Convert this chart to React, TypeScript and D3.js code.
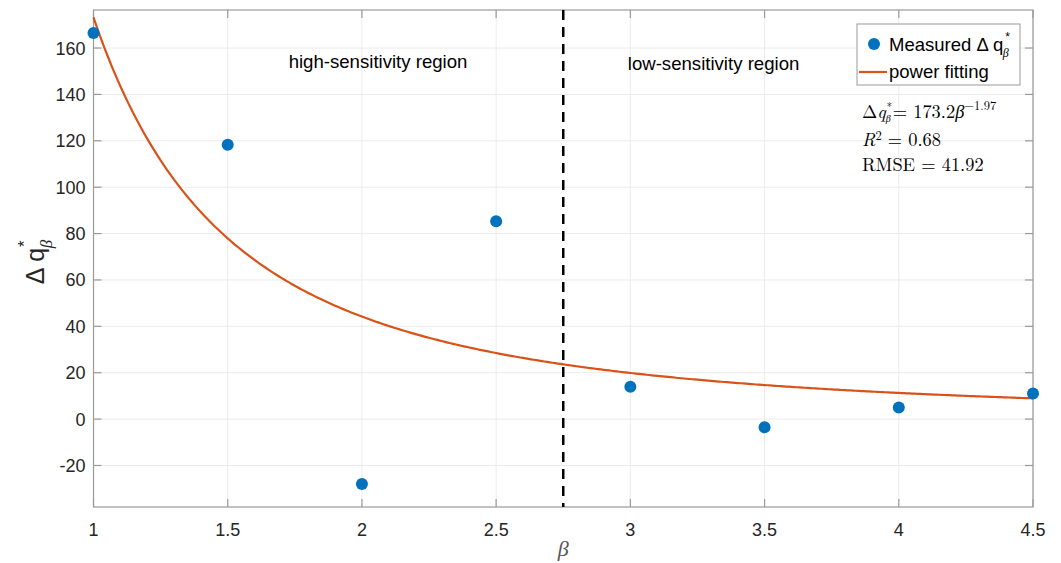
import React, { useEffect, useRef } from 'react'
import * as d3 from 'd3'

const betaValues = [1, 1.5, 2, 2.5, 3, 3.5, 4, 4.5]
const measured = [166.5, 118.3, -28, 85.3, 14, -3.5, 5, 11]
const xTicks = [1, 1.5, 2, 2.5, 3, 3.5, 4, 4.5]
const yTicks = [-20, 0, 20, 40, 60, 80, 100, 120, 140, 160]
const fitA = 173.2
const fitB = -1.97
const splitBeta = 2.75

export default function App() {
  const ref = useRef<SVGSVGElement>(null)

  useEffect(() => {
    const svg = d3.select(ref.current)
    svg.selectAll('*').remove()

    const width = 1061
    const height = 563
    const margin = { top: 10, right: 28, bottom: 56, left: 93.5 }
    const iw = width - margin.left - margin.right
    const ih = height - margin.top - margin.bottom

    const x = d3.scaleLinear().domain([1, 4.5]).range([0, iw])
    const y = d3.scaleLinear().domain([-37.9, 176.4]).range([ih, 0])

    const g = svg.append('g').attr('transform', `translate(${margin.left},${margin.top})`)
    const font = 'Helvetica, Arial, "Liberation Sans", sans-serif'
    const serif = '"Latin Modern Roman", "Liberation Serif", "Times New Roman", serif'

    // grid
    g.append('g').selectAll('line').data(xTicks).enter().append('line')
      .attr('x1', d => x(d)).attr('x2', d => x(d)).attr('y1', 0).attr('y2', ih)
      .attr('stroke', '#ebebeb').attr('stroke-width', 1)
    g.append('g').selectAll('line').data(yTicks).enter().append('line')
      .attr('y1', d => y(d)).attr('y2', d => y(d)).attr('x1', 0).attr('x2', iw)
      .attr('stroke', '#ebebeb').attr('stroke-width', 1)

    // axes box
    g.append('rect').attr('width', iw).attr('height', ih)
      .attr('fill', 'none').attr('stroke', '#9a9a9a').attr('stroke-width', 1.2)

    const tl = 8
    const tickG = g.append('g').attr('stroke', '#9a9a9a').attr('stroke-width', 1.2)
    xTicks.forEach(t => {
      tickG.append('line').attr('x1', x(t)).attr('x2', x(t)).attr('y1', ih).attr('y2', ih - tl)
      tickG.append('line').attr('x1', x(t)).attr('x2', x(t)).attr('y1', 0).attr('y2', tl)
    })
    yTicks.forEach(t => {
      tickG.append('line').attr('y1', y(t)).attr('y2', y(t)).attr('x1', 0).attr('x2', tl)
      tickG.append('line').attr('y1', y(t)).attr('y2', y(t)).attr('x1', iw).attr('x2', iw - tl)
    })

    g.append('g').selectAll('text').data(xTicks).enter().append('text')
      .attr('x', d => x(d)).attr('y', ih + 29)
      .attr('text-anchor', 'middle').attr('font-family', font).attr('font-size', 18)
      .attr('fill', '#262626').text(d => String(d))
    g.append('g').selectAll('text').data(yTicks).enter().append('text')
      .attr('x', -8).attr('y', d => y(d) + 6.5)
      .attr('text-anchor', 'end').attr('font-family', font).attr('font-size', 18)
      .attr('fill', '#262626').text(d => String(d))

    // dashed split line
    g.append('line').attr('x1', x(splitBeta)).attr('x2', x(splitBeta)).attr('y1', 0).attr('y2', ih)
      .attr('stroke', '#000').attr('stroke-width', 2.5).attr('stroke-dasharray', '10,7')

    // fit curve
    const fitPts = d3.range(0, 351).map(i => 1 + i * 0.01)
    const line = d3.line<number>().x(d => x(d)).y(d => y(fitA * Math.pow(d, fitB)))
    g.append('path').datum(fitPts).attr('d', line)
      .attr('fill', 'none').attr('stroke', '#D95319').attr('stroke-width', 2.2)

    // points
    g.append('g').selectAll('circle').data(betaValues).enter().append('circle')
      .attr('cx', d => x(d)).attr('cy', (d, i) => y(measured[i])).attr('r', 6)
      .attr('fill', '#0072BD')

    // region labels
    g.append('text').attr('x', x(2.06)).attr('y', 58).attr('text-anchor', 'middle')
      .attr('font-family', font).attr('font-size', 18.6).attr('fill', '#000').text('high-sensitivity region')
    g.append('text').attr('x', x(3.31)).attr('y', 60).attr('text-anchor', 'middle')
      .attr('font-family', font).attr('font-size', 18.6).attr('fill', '#000').text('low-sensitivity region')

    // legend
    const lg = svg.append('g').attr('transform', 'translate(857,24)')
    lg.append('rect').attr('width', 163).attr('height', 61).attr('fill', '#fff')
      .attr('stroke', '#9a9a9a').attr('stroke-width', 1)
    lg.append('circle').attr('cx', 17).attr('cy', 20).attr('r', 6).attr('fill', '#0072BD')
    const t1 = lg.append('text').attr('x', 32).attr('y', 27).attr('font-family', font)
      .attr('font-size', 18.5).attr('fill', '#000')
    t1.append('tspan').text('Measured \u0394 q')
    t1.append('tspan').attr('dx', 2).attr('dy', -10).attr('font-size', 12).text('*')
    t1.append('tspan').attr('dx', -7).attr('dy', 16).attr('font-size', 12)
      .attr('font-family', serif).attr('font-style', 'italic').text('\u03b2')
    lg.append('line').attr('x1', 2).attr('x2', 30).attr('y1', 48).attr('y2', 48)
      .attr('stroke', '#D95319').attr('stroke-width', 2.2)
    lg.append('text').attr('x', 32).attr('y', 54).attr('font-family', font)
      .attr('font-size', 18.5).attr('fill', '#000').text('power fitting')

    // annotation
    const ag = svg.append('g').attr('transform', 'translate(862,0)').attr('font-family', serif)
      .attr('font-size', 18.4).attr('fill', '#000')
    const a1 = ag.append('text').attr('y', 118)
    a1.append('tspan').text('\u0394')
    a1.append('tspan').attr('font-style', 'italic').text('q')
    const qLen = (a1.node() as SVGTextElement).getComputedTextLength()
    ag.append('text').attr('x', qLen + 1).attr('y', 109.5).attr('font-size', 10.5).text('*')
    ag.append('text').attr('x', qLen).attr('y', 121.5).attr('font-size', 10)
      .attr('font-style', 'italic').text('\u03b2')
    const a1b = ag.append('text').attr('x', qLen + 7).attr('y', 118)
    a1b.append('tspan').text(' = 173.2')
    a1b.append('tspan').attr('font-style', 'italic').text('\u03b2')
    a1b.append('tspan').attr('font-size', 12.5).attr('dy', -8).text('\u22121.97')
    const a2 = ag.append('text').attr('y', 146)
    a2.append('tspan').attr('font-style', 'italic').text('R')
    a2.append('tspan').attr('font-size', 12.5).attr('dy', -6).text('2')
    a2.append('tspan').attr('dy', 6).text(' = 0.68')
    ag.append('text').attr('y', 170.5).text('RMSE = 41.92')

    // axis labels
    svg.append('text').attr('x', margin.left + x(2.75)).attr('y', 556)
      .attr('text-anchor', 'middle').attr('font-family', serif).attr('font-style', 'italic')
      .attr('font-size', 22).attr('fill', '#555').text('\u03b2')

    const yl = svg.append('text').attr('transform', 'translate(44,262) rotate(-90)')
      .attr('text-anchor', 'middle').attr('font-family', font).attr('font-size', 25)
      .attr('fill', '#262626')
    yl.append('tspan').text('\u0394 q')
    yl.append('tspan').attr('dx', 1).attr('dy', -14).attr('font-size', 17).text('*')
    yl.append('tspan').attr('dx', -8).attr('dy', 22).attr('font-size', 17)
      .attr('font-family', serif).attr('font-style', 'italic').text('\u03b2')
  }, [])

  return (
    <svg ref={ref} width={1061} height={563} style={{ position: 'absolute', left: 0, top: 0, background: '#fff' }} />
  )
}
